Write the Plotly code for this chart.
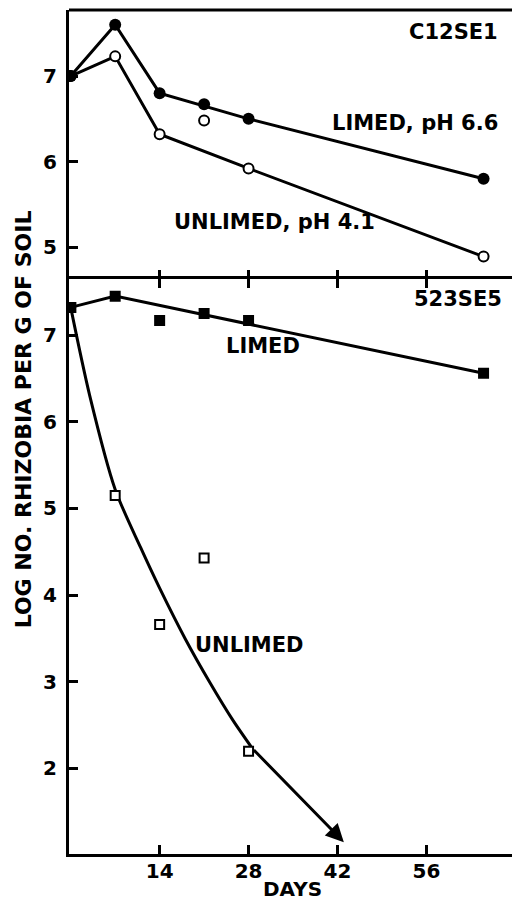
import plotly.graph_objects as go
from plotly.subplots import make_subplots

# ---- data ----
days = [0, 7, 14, 21, 28, 65]
x_ticks = [14, 28, 42, 56]

# top panel: strain C12SE1
c12_limed = [7.00, 7.60, 6.80, 6.67, 6.50, 5.80]
c12_unlimed = [7.00, 7.23, 6.32, 6.48, 5.92, 4.89]
c12_line_days = [0, 7, 14, 28, 65]
c12_limed_line = [7.00, 7.60, 6.80, 6.50, 5.80]
c12_unlimed_line = [7.00, 7.23, 6.32, 5.92, 4.89]
top_y_ticks = [5, 6, 7]

# bottom panel: strain 523SE5
s523_limed = [7.32, 7.45, 7.17, 7.25, 7.17, 6.56]
s523_limed_line_days = [0, 7, 65]
s523_limed_line = [7.32, 7.45, 6.56]
s523_unlimed_days = [0, 7, 14, 21, 28]
s523_unlimed = [7.32, 5.15, 3.66, 4.43, 2.20]
s523_curve_days = [0, 3, 7, 11, 14, 18, 22, 25.5, 28.6]
s523_curve_vals = [7.32, 6.30, 5.22, 4.55, 4.08, 3.50, 2.98, 2.56, 2.23]
arrow_end_day = 43
arrow_end_val = 1.15
bottom_y_ticks = [2, 3, 4, 5, 6, 7]

FONT = "DejaVu Sans"
BLK = "black"

fig = make_subplots(rows=2, cols=1, vertical_spacing=0, row_heights=[0.3183, 0.6817])

# --- top panel ---
fig.add_trace(go.Scatter(x=c12_line_days, y=c12_unlimed_line, mode="lines",
                         line=dict(color=BLK, width=3)), row=1, col=1)
fig.add_trace(go.Scatter(x=c12_line_days, y=c12_limed_line, mode="lines",
                         line=dict(color=BLK, width=3)), row=1, col=1)
fig.add_trace(go.Scatter(x=days, y=c12_unlimed, mode="markers",
                         marker=dict(symbol="circle", size=10, color="white",
                                     line=dict(color=BLK, width=2))), row=1, col=1)
fig.add_trace(go.Scatter(x=days, y=c12_limed, mode="markers",
                         marker=dict(symbol="circle", size=12, color=BLK)), row=1, col=1)

# --- bottom panel ---
fig.add_trace(go.Scatter(x=s523_curve_days, y=s523_curve_vals, mode="lines",
                         line=dict(color=BLK, width=3, shape="spline", smoothing=0.8)),
              row=2, col=1)
fig.add_trace(go.Scatter(x=s523_limed_line_days, y=s523_limed_line, mode="lines",
                         line=dict(color=BLK, width=3)), row=2, col=1)
fig.add_trace(go.Scatter(x=s523_unlimed_days, y=s523_unlimed, mode="markers",
                         marker=dict(symbol="square", size=9, color="white",
                                     line=dict(color=BLK, width=2))), row=2, col=1)
fig.add_trace(go.Scatter(x=days, y=s523_limed, mode="markers",
                         marker=dict(symbol="square", size=11, color=BLK)), row=2, col=1)

tickfont = dict(family=FONT, size=20, color=BLK, weight="bold")
xrange = [-0.27, 69.95]

fig.update_xaxes(range=xrange, tickvals=x_ticks, ticks="inside", ticklen=9, tickwidth=3,
                 tickcolor=BLK, showgrid=False, zeroline=False)
fig.update_xaxes(showline=False, showticklabels=False, row=1, col=1)
fig.update_xaxes(showline=True, linewidth=3, linecolor=BLK, mirror="ticks",
                 showticklabels=True, tickfont=tickfont, ticklabelstandoff=-3,
                 row=2, col=1)
fig.update_yaxes(showline=True, linewidth=3, linecolor=BLK, mirror=True,
                 ticks="inside", ticklen=9, tickwidth=3, tickcolor=BLK,
                 showgrid=False, zeroline=False, tickfont=tickfont, ticklabelstandoff=5)
fig.update_yaxes(range=[4.632, 7.772], tickvals=top_y_ticks, row=1, col=1)
fig.update_yaxes(range=[1.013, 7.652], tickvals=bottom_y_ticks, row=2, col=1)

lab = dict(family=FONT, size=21, color=BLK, weight="bold")
ann = [
    dict(text="C12SE1", x=67.6, y=7.51, xref="x", yref="y", xanchor="right", yanchor="middle"),
    dict(text="LIMED, pH 6.6", x=67.6, y=6.45, xref="x", yref="y", xanchor="right", yanchor="middle"),
    dict(text="UNLIMED, pH 4.1", x=15.9, y=5.29, xref="x", yref="y", xanchor="left", yanchor="middle"),
    dict(text="523SE5", x=68.2, y=7.42, xref="x2", yref="y2", xanchor="right", yanchor="middle"),
    dict(text="LIMED", x=24.2, y=6.87, xref="x2", yref="y2", xanchor="left", yanchor="middle"),
    dict(text="UNLIMED", x=19.2, y=3.42, xref="x2", yref="y2", xanchor="left", yanchor="middle"),
]
for a in ann:
    fig.add_annotation(showarrow=False, font=lab, **a)

# arrow continuing the unlimed curve
fig.add_annotation(x=arrow_end_day, y=arrow_end_val, xref="x2", yref="y2",
                   ax=s523_curve_days[-1], ay=s523_curve_vals[-1], axref="x2", ayref="y2",
                   text="", showarrow=True, arrowhead=2, arrowsize=1.2, arrowwidth=3,
                   arrowcolor=BLK, standoff=0, startstandoff=0)

# top border of upper panel
fig.add_shape(type="line", xref="x domain", yref="y domain", x0=0, x1=1, y0=1, y1=1,
              line=dict(color=BLK, width=3))

fig.add_annotation(text="LOG NO. RHIZOBIA PER G OF SOIL", xref="paper", yref="paper",
                   x=0, y=0.515, xshift=-46, textangle=-90, showarrow=False,
                   xanchor="center", yanchor="middle",
                   font=dict(family=FONT, size=22, color=BLK, weight="bold"))
fig.add_annotation(text="DAYS", xref="paper", yref="paper", x=0.5, y=0, yshift=-21,
                   xanchor="center", yanchor="top", showarrow=False,
                   font=dict(family=FONT, size=20, color=BLK, weight="bold"))

fig.update_layout(width=512, height=892, showlegend=False,
                  margin=dict(l=61, r=3, t=2, b=46),
                  paper_bgcolor="white", plot_bgcolor="white")

fig.write_html("out.html")
